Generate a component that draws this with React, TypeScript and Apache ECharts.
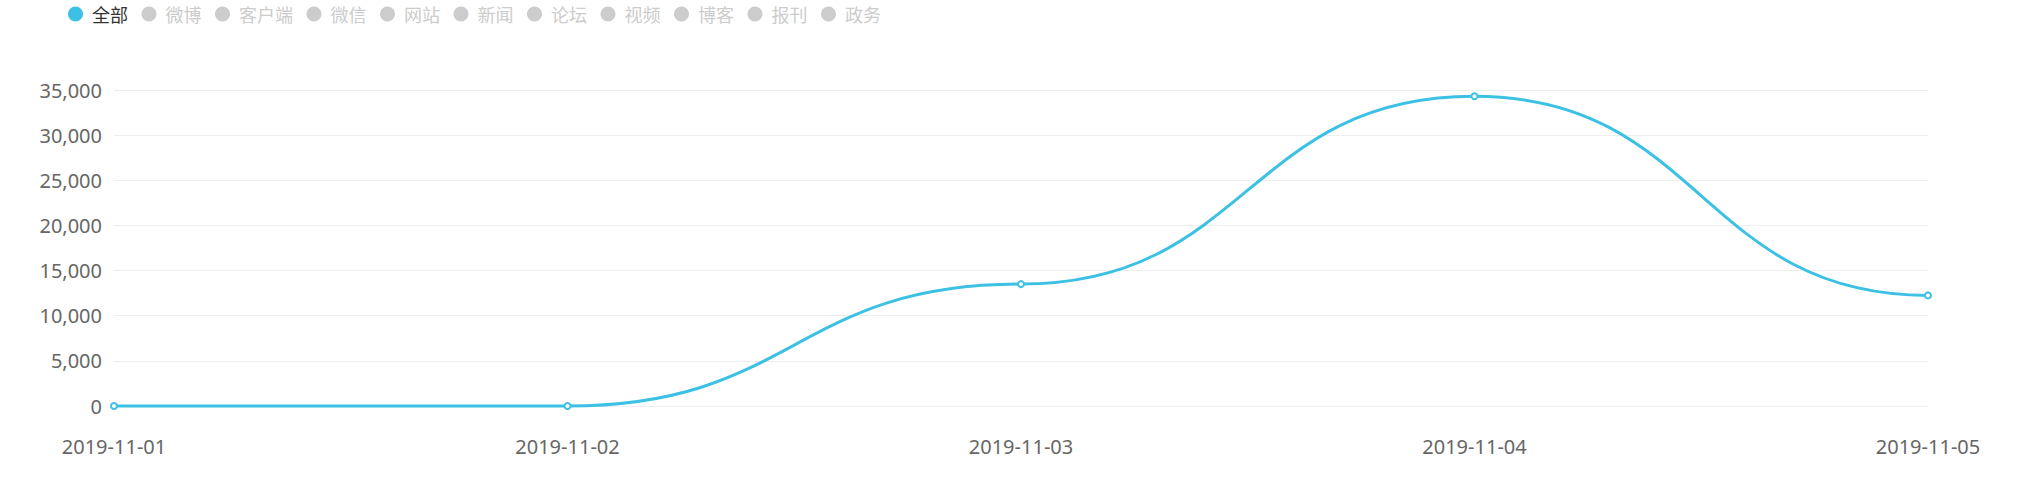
import React, { useEffect, useRef } from "react";
import * as echarts from "echarts";

const categories = ["2019-11-01", "2019-11-02", "2019-11-03", "2019-11-04", "2019-11-05"];
const allValues = [0, 0, 13500, 34300, 12250];
const legendNames = ["全部", "微博", "客户端", "微信", "网站", "新闻", "论坛", "视频", "博客", "报刊", "政务"];
const otherValues: number[] = [];

export default function App() {
  const ref = useRef<HTMLDivElement>(null);
  useEffect(() => {
    document.body.style.margin = "0";
    const chart = echarts.init(ref.current!, null, { renderer: "svg" });
    const selected: Record<string, boolean> = {};
    legendNames.forEach((n, i) => (selected[n] = i === 0));
    const mainColor = "#3cc1e4";
    const curve: any = {
      name: "全部",
      type: "custom",
      data: allValues.map((v, i) => [i, v]),
      encode: { x: 0, y: 1 },
      color: mainColor,
      renderItem: (params: any, api: any) => {
        const i = params.dataIndex;
        if (i === 0) return { type: "group", children: [] };
        const p0 = api.coord([i - 1, allValues[i - 1]]);
        const p1 = api.coord([i, allValues[i]]);
        const dx = (p1[0] - p0[0]) * 0.5;
        return {
          type: "bezierCurve",
          shape: {
            x1: p0[0], y1: p0[1],
            cpx1: p0[0] + dx, cpy1: p0[1],
            cpx2: p1[0] - dx, cpy2: p1[1],
            x2: p1[0], y2: p1[1],
          },
          style: { stroke: mainColor, lineWidth: 3, fill: null },
        };
      },
    };
    const series: any[] = legendNames.map((name, i) => ({
      name,
      type: "line",
      data: i === 0 ? allValues : otherValues,
      symbol: "emptyCircle",
      symbolSize: 6,
      lineStyle: i === 0 ? { width: 3, color: mainColor, opacity: 0 } : { width: 3, color: "#999" },
      itemStyle: { color: i === 0 ? mainColor : "#999", borderWidth: 2 },
    }));
    chart.setOption({
      animation: false,
      legend: {
        data: legendNames,
        selected,
        left: 63,
        top: 0,
        icon: "circle",
        itemWidth: 15,
        itemHeight: 15,
        itemGap: 13.5,
        inactiveColor: "#ccc",
        textStyle: {
          fontSize: 18,
          color: "#333",
          fontFamily: "Noto Sans CJK SC",
          padding: [0, 0, 0, 4],
        },
      },
      grid: { left: 114, right: 101, top: 90, bottom: 74, containLabel: false },
      xAxis: {
        type: "category",
        data: categories,
        boundaryGap: false,
        axisLine: { show: true, lineStyle: { color: "#eee" } },
        axisTick: { show: false },
        axisLabel: { color: "#666", fontSize: 20, margin: 30, fontFamily: "Noto Sans" },
      },
      yAxis: {
        type: "value",
        min: 0,
        max: 35000,
        interval: 5000,
        axisLine: { show: false },
        axisTick: { show: false },
        splitLine: { lineStyle: { color: "#eee" } },
        axisLabel: {
          color: "#666",
          fontSize: 20,
          margin: 12,
          fontFamily: "Noto Sans",
          formatter: (v: number) => v.toLocaleString("en-US"),
        },
      },
      series: [curve, ...series],
    });
    return () => chart.dispose();
  }, []);
  return (
    <div
      ref={ref}
      style={{ position: "fixed", left: 0, top: 0, width: 2029, height: 480, background: "#fff" }}
    />
  );
}
